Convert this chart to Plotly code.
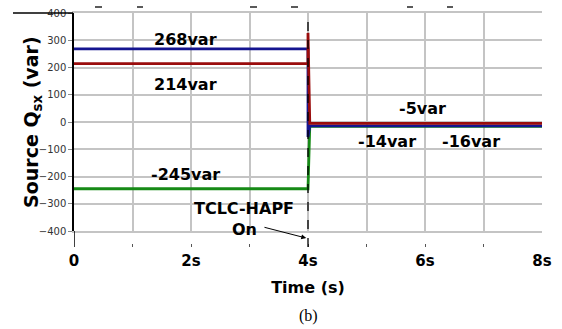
import plotly.graph_objects as go

# ---- data ----
time_s = [0, 4.0, 4.0, 4.03, 8]
q_blue = [268, 268, -55, -14, -14]
q_red = [214, 214, 327, -5, -5]
q_green = [-245, -245, -245, -16, -16]
x_tickvals = [0, 1, 2, 3, 4, 5, 6, 7, 8]
x_ticktext = ["0", "", "2s", "", "4s", "", "6s", "", "8s"]
y_tickvals = [400, 300, 200, 100, 0, -100, -200, -300, -400]
T_ON = 4
labels = [
    ("268var", 1.9, 301), ("214var", 1.9, 139), ("-245var", 1.9, -191),
    ("-5var", 5.95, 51), ("-14var", 5.35, -70), ("-16var", 6.79, -70),
]

W, H = 562, 329
L, R, T, B = 74, 20, 13, 82
plot_w = W - L - R
plot_h = H - T - B  # 234
ydom0 = 16 / plot_h


def px(xp):
    return (xp - L) / plot_w


def py(yp):
    return (H - B - yp) / plot_h


BOLD = "DejaVu Sans"

fig = go.Figure()
fig.add_trace(go.Scatter(x=time_s, y=q_green, mode="lines",
                         line=dict(color="#168a16", width=2.8), showlegend=False))
fig.add_trace(go.Scatter(x=time_s, y=q_blue, mode="lines",
                         line=dict(color="#14148f", width=2.8), showlegend=False))
fig.add_trace(go.Scatter(x=time_s, y=q_red, mode="lines",
                         line=dict(color="#9a0c0c", width=2.8), showlegend=False))
# dummy trace for bottom tick axis
fig.add_trace(go.Scatter(x=[0, 8], y=[None, None], xaxis="x2", yaxis="y",
                         mode="lines", showlegend=False, hoverinfo="skip"))

fig.update_layout(
    width=W, height=H,
    margin=dict(l=L, r=R, t=T, b=B),
    paper_bgcolor="white", plot_bgcolor="white",
    xaxis=dict(range=[0, 8], domain=[0, 1], anchor="y", automargin=False,
               tickvals=x_tickvals, showticklabels=False, ticks="",
               showgrid=True, gridcolor="#c4c4c4", gridwidth=1.5,
               zeroline=False, showline=True, linecolor="#c4c4c4", linewidth=1.5,
               mirror=True),
    xaxis2=dict(range=[0, 8], domain=[0, 1], anchor="free", position=0,
                overlaying="x", automargin=False,
                tickvals=x_tickvals, ticktext=x_ticktext,
                ticks="inside", ticklen=3, tickwidth=1, tickcolor="#555",
                ticklabelstandoff=3,
                showgrid=False, zeroline=False, showline=False,
                tickfont=dict(family=BOLD, size=15, color="black", weight="bold"),
                title=dict(text="<b>Time (s)</b>", standoff=12,
                           font=dict(family=BOLD, size=16, color="black"))),
    yaxis=dict(range=[-400, 400], domain=[ydom0, 1], tickvals=y_tickvals,
               automargin=False,
               ticks="outside", ticklen=4, tickcolor="#888",
               tickfont=dict(family="DejaVu Sans", size=10, color="#333"),
               showgrid=True, gridcolor="#c4c4c4", gridwidth=1.5, zeroline=False,
               showline=True, linecolor="black", linewidth=1.5),
)

# y-axis title
fig.add_annotation(x=px(32), y=py(122), xref="paper", yref="paper",
                   text="<b>Source Q<sub>sx</sub> (var)</b>", textangle=-90,
                   showarrow=False, xanchor="center", yanchor="middle",
                   font=dict(family=BOLD, size=19, color="black"))

# left axis line extension and switching instant marker
fig.add_shape(type="line", xref="x", yref="paper", x0=0, x1=0, y0=0, y1=ydom0,
              line=dict(color="black", width=1.5))
fig.add_shape(type="line", xref="x", yref="paper", x0=T_ON, x1=T_ON, y0=0,
              y1=py(20), line=dict(color="black", width=1.3, dash="dash"))

# cropping remnants at the top edge of the reference
fig.add_shape(type="line", xref="paper", yref="paper", x0=px(13), x1=px(73),
              y0=py(13), y1=py(13), line=dict(color="black", width=1.5))
for a, b in [(95, 102), (137, 143), (250, 257), (291, 298), (407, 413), (447, 453)]:
    fig.add_shape(type="line", xref="paper", yref="paper", x0=px(a), x1=px(b),
                  y0=py(7), y1=py(7), line=dict(color="black", width=1.3))

for txt, xv, yv in labels:
    fig.add_annotation(x=xv, y=yv, xref="x", yref="y", text="<b>%s</b>" % txt,
                       showarrow=False, font=dict(family=BOLD, size=16, color="black"))

fig.add_annotation(x=2.91, y=-316, xref="x", yref="y", text="<b>TCLC-HAPF</b>",
                   showarrow=False, font=dict(family=BOLD, size=16, color="black"))
fig.add_annotation(x=T_ON - 0.03, y=-426, xref="x", yref="y", ax=3.23, ay=-385,
                   axref="x", ayref="y", text="", showarrow=True, arrowhead=2,
                   arrowsize=1, arrowwidth=1, arrowcolor="black")
fig.add_annotation(x=2.91, y=-393, xref="x", yref="y", text="<b>On</b>",
                   showarrow=False, font=dict(family=BOLD, size=16, color="black"))

fig.add_annotation(x=0.5, y=py(316), xref="paper", yref="paper", text="(b)",
                   showarrow=False, yanchor="middle",
                   font=dict(family="Liberation Serif", size=16, color="black"))

fig.write_html("out.html")
